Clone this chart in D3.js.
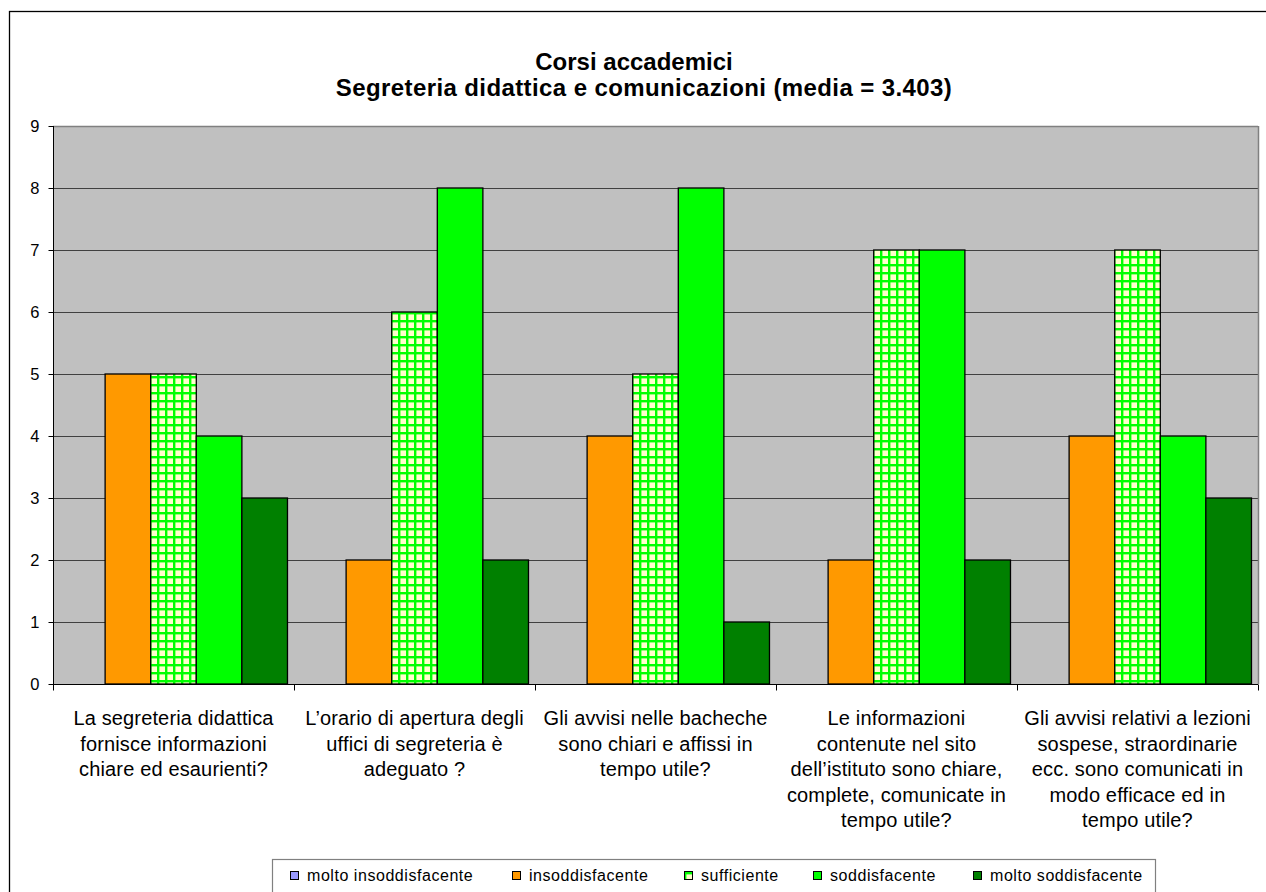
<!DOCTYPE html>
<html><head><meta charset="utf-8">
<script src="https://cdn.jsdelivr.net/npm/d3@7"></script>
<style>body{margin:0;background:#fff}svg{display:block}text{font-family:"Liberation Sans",Arial,sans-serif}</style>
</head><body><svg id="c" width="1266" height="892"></svg>
<script>
const categories = [
  ["La segreteria didattica","fornisce informazioni","chiare ed esaurienti?"],
  ["L’orario di apertura degli","uffici di segreteria è","adeguato ?"],
  ["Gli avvisi nelle bacheche","sono chiari e affissi in","tempo utile?"],
  ["Le informazioni","contenute nel sito","dell’istituto sono chiare,","complete, comunicate in","tempo utile?"],
  ["Gli avvisi relativi a lezioni","sospese, straordinarie","ecc. sono comunicati in","modo efficace ed in","tempo utile?"]
];
const seriesNames = ["molto insoddisfacente","insoddisfacente","sufficiente","soddisfacente","molto soddisfacente"];
const moltoInsoddisfacente = [0,0,0,0,0];
const insoddisfacente = [5,2,4,2,4];
const sufficiente = [5,6,5,7,7];
const soddisfacente = [4,8,8,7,4];
const moltoSoddisfacente = [3,2,1,2,3];
const yTicks = [0,1,2,3,4,5,6,7,8,9];
const titleLines = ["Corsi accademici","Segreteria didattica e comunicazioni (media = 3.403)"];

const seriesValues = [moltoInsoddisfacente, insoddisfacente, sufficiente, soddisfacente, moltoSoddisfacente];
const colors = ["#9999FF","#FF9900","url(#chk)","#00FF00","#008000"];

const svg = d3.select("#c");
const defs = svg.append("defs");
const pat = defs.append("pattern").attr("id","chk").attr("patternUnits","userSpaceOnUse")
  .attr("width",8).attr("height",8);
pat.append("rect").attr("width",8).attr("height",8).attr("fill","#FFFFCC");
pat.append("rect").attr("x",0).attr("y",0).attr("width",8).attr("height",2.4).attr("fill","#00FF00");
pat.append("rect").attr("x",0).attr("y",0).attr("width",2.4).attr("height",8).attr("fill","#00FF00");

// outer frame
svg.append("rect").attr("x",9.5).attr("y",11.5).attr("width",1300).attr("height",900)
  .attr("fill","#fff").attr("stroke","#000").attr("stroke-width",1.3);

const L=53, R=1258, T=126, B=684;
const x0 = d3.scaleBand().domain(d3.range(categories.length)).range([L,R]).paddingInner(0).paddingOuter(0);
const x1 = d3.scaleBand().domain(d3.range(seriesNames.length)).range([0,x0.bandwidth()]).paddingInner(0).paddingOuter(0.143);
const y = d3.scaleLinear().domain([0,9]).range([B,T]);

svg.append("rect").attr("x",L).attr("y",T).attr("width",R-L).attr("height",B-T).attr("fill","#C0C0C0");
// gridlines
svg.append("g").selectAll("line").data(yTicks.slice(1)).join("line")
  .attr("x1",L).attr("x2",R).attr("y1",d=>y(d)+0.5).attr("y2",d=>y(d)+0.5)
  .attr("stroke",d=>d===9?"#808080":"#404040").attr("stroke-width",d=>d===9?1.5:1);
svg.append("line").attr("x1",R+0.5).attr("x2",R+0.5).attr("y1",T).attr("y2",B).attr("stroke","#808080").attr("stroke-width",1.5);

// bars
const groups = svg.append("g").selectAll("g").data(categories).join("g")
  .attr("transform",(d,i)=>`translate(${x0(i)},0)`);
groups.selectAll("rect").data((d,i)=>seriesValues.map((s,k)=>({k,v:s[i]}))).join("rect")
  .attr("x",d=>x1(d.k)).attr("width",x1.bandwidth())
  .attr("y",d=>y(d.v)).attr("height",d=>y(0)-y(d.v))
  .attr("fill",d=>colors[d.k]).attr("stroke","#000").attr("stroke-width",d=>d.v>0?1.3:0);

// y axis
const yAxis = d3.axisLeft(y).tickValues(yTicks).tickSize(5).tickPadding(9).tickFormat(d3.format("d"));
const ya = svg.append("g").attr("transform",`translate(${L+0.5},0)`).call(yAxis);
ya.select(".domain").remove();
ya.selectAll("line").attr("stroke","#000");
ya.selectAll("text").attr("font-size",16.5).attr("fill","#000").style("font-family","'Liberation Sans',Arial,sans-serif");
svg.append("line").attr("x1",L+0.5).attr("x2",L+0.5).attr("y1",T).attr("y2",B).attr("stroke","#000");

// x axis
const xAxis = d3.axisBottom(d3.scaleLinear().domain([0,5]).range([L,R])).tickValues([0,1,2,3,4,5]).tickSize(6).tickFormat("");
const xa = svg.append("g").attr("transform",`translate(0,${B+0.5})`).call(xAxis);
xa.select(".domain").attr("stroke","#000").attr("d",`M${L},0H${R}`);
xa.selectAll("line").attr("stroke","#000");

// category labels
svg.append("g").selectAll("text").data(categories).join("text")
  .attr("x",(d,i)=>x0(i)+x0.bandwidth()/2).attr("y",725).attr("text-anchor","middle")
  .attr("font-size",20).attr("letter-spacing",0.15).attr("fill","#000")
  .each(function(lines){
    d3.select(this).selectAll("tspan").data(lines).join("tspan")
      .attr("x",d3.select(this).attr("x")).attr("dy",(d,j)=>j===0?0:25.5).text(d=>d);
  });

// title
svg.append("text").attr("x",634).attr("y",70).attr("text-anchor","middle").attr("font-size",24).attr("font-weight","bold").text(titleLines[0]);
svg.append("text").attr("x",644).attr("y",96).attr("text-anchor","middle").attr("font-size",24).attr("font-weight","bold").attr("letter-spacing",0.4).text(titleLines[1]);

// legend
svg.append("rect").attr("x",272.5).attr("y",859.5).attr("width",883).attr("height",40).attr("fill","#fff").attr("stroke","#808080").attr("stroke-width",1.2);
const legX = [290,512,684,813,973];
const lg = svg.append("g").selectAll("g").data(seriesNames).join("g").attr("transform",(d,i)=>`translate(${legX[i]},0)`);
lg.append("rect").attr("x",0.5).attr("y",871.5).attr("width",8).attr("height",8).attr("fill",(d,i)=>colors[i]).attr("stroke","#000");
lg.append("text").attr("x",17).attr("y",881).attr("font-size",16).attr("letter-spacing",0.55).attr("fill","#000").text(d=>d);
</script></body></html>
